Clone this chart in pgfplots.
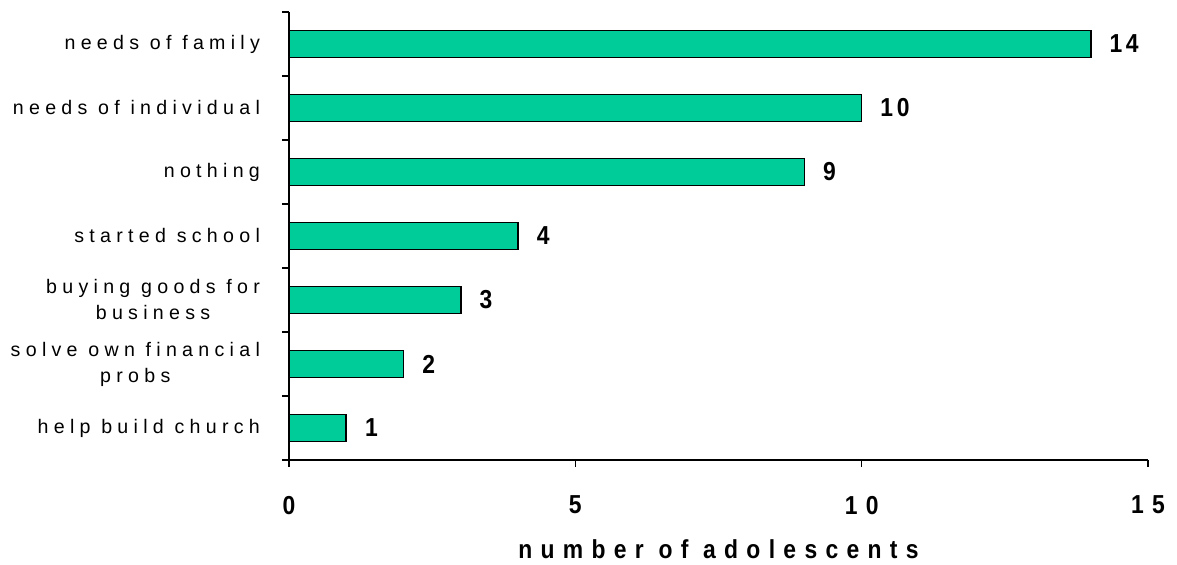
\documentclass[border=0pt]{standalone}
\usepackage{fontspec}
\setmainfont{Liberation Sans}
\newfontfamily\catfont[LetterSpace=27]{Liberation Sans}
\newfontfamily\numfont[FakeStretch=0.88,LetterSpace=32]{Liberation Sans}
\newfontfamily\barfont[FakeStretch=0.88,LetterSpace=14]{Liberation Sans}
\usepackage{pgfplots}
\pgfplotsset{compat=1.18}
\definecolor{barcol}{RGB}{0,204,153}
\begin{document}
\begin{tikzpicture}
\useasboundingbox (0,0) rectangle (588.5pt,282.5pt);
\begin{axis}[
  at={(144.5pt,52.5pt)}, anchor=south west,
  scale only axis, width=429.5pt, height=224pt,
  xbar, bar width=13.5pt,
  xmin=0, xmax=15, ymin=-0.5, ymax=6.5,
  enlargelimits=false,
  axis lines*=left,
  axis line style={line width=1pt,-},
  tick align=outside,
  major tick length=3.5pt, minor tick length=3.5pt,
  xtick={0,5,10,15}, xticklabels={0,5,10,15},
  xticklabel style={font=\numfont\bfseries\fontsize{13}{15}\selectfont, yshift=-11pt},
  every tick/.style={black, line width=0.8pt},
  ytick={0,1,2,3,4,5,6},
  yticklabels={help build church,{solve own financial\\probs},{buying goods for\\business},started school,nothing,needs of individual,needs of family},
  yticklabel style={align=center, font=\catfont\fontsize{9.8}{13}\selectfont, xshift=-7.5pt},
  major y tick style={draw=none},
  minor ytick={-0.5,0.5,...,6.5},
  xlabel={number of adolescents},
  xlabel style={font=\numfont\bfseries\fontsize{13}{15}\selectfont, yshift=-5.5pt},
  point meta=explicit symbolic,
  nodes near coords,
  every node near coord/.append style={font=\barfont\bfseries\fontsize{13}{15}\selectfont, anchor=west, inner sep=0pt, xshift=9pt},
]
\addplot[fill=barcol, draw=black, line width=0.8pt] coordinates {
  (1,0) [1]
  (2,1) [2]
  (3,2) [3]
  (4,3) [4]
  (9,4) [9]
  (10,5) [10]
  (14,6) [14]
};
\end{axis}
\end{tikzpicture}
\end{document}
